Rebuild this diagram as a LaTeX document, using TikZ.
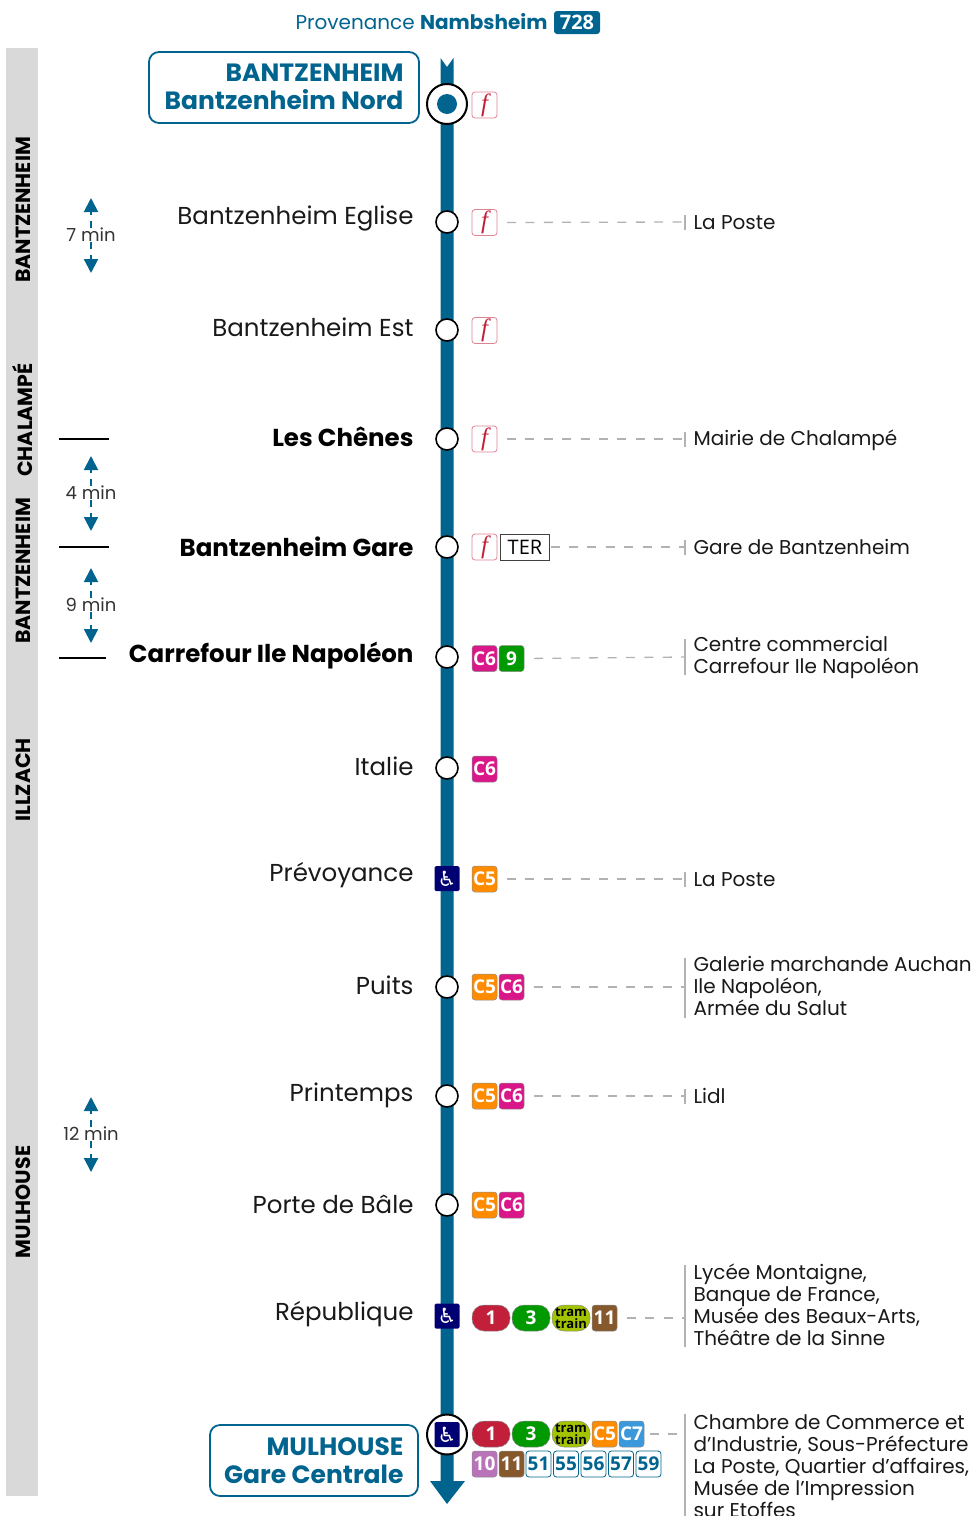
\documentclass[tikz,border=0pt]{standalone}
\usepackage{fontspec}
\usepackage{tikz}
\usetikzlibrary{arrows.meta,positioning}
\setmainfont{Poppins}
\newfontfamily\badgefont{Open Sans}
\newfontfamily\signfont{DejaVu Sans}
\newfontfamily\farefont{Liberation Serif}
\definecolor{lineblue}{HTML}{00648F}
\definecolor{farered}{HTML}{C2203A}
\definecolor{tramlime}{HTML}{A3C400}
\begin{document}
\begin{tikzpicture}[x=1pt,y=-1pt,
    zone/.style={fill=black!15,draw=none,minimum width=32,inner sep=0},
    zonetext/.style={rotate=90,font=\bfseries\fontsize{20.5}{22}\selectfont},
    stop/.style={circle,draw=black,fill=white,line width=1.6,minimum size=22,inner sep=0},
    endstop/.style={circle,draw=black,fill=white,line width=2,minimum size=40,inner sep=0},
    station/.style={anchor=east,text=black!90,font=\fontsize{24.5}{26}\selectfont},
    bigstation/.style={anchor=east,text=black,font=\bfseries\fontsize{24.5}{26}\selectfont},
    endbox/.style={draw=lineblue,line width=1.8,rounded corners=10,fill=white,inner sep=0,
        text=lineblue,align=right,font=\bfseries\fontsize{25}{28}\selectfont},
    place/.style={anchor=west,align=left,text=black!90,font=\fontsize{20}{22}\selectfont},
    tick/.style={fill=black!30,draw=none,minimum width=1.5,inner sep=0},
    leader/.style={draw=black!30,line width=1.3,dash pattern=on 9pt off 9.4pt,shorten <=10pt},
    timetext/.style={text=black!80,fill=white,inner xsep=1,inner ysep=0,font=\fontsize{18}{20}\selectfont},
    timearrow/.style={draw=lineblue,line width=2,dash pattern=on 7pt off 6pt,
        -{Triangle[length=14pt,width=14pt]}},
    timemark/.style={draw=black,line width=2},
    badge/.style={minimum width=25,minimum height=26,inner sep=0,outer sep=0,rounded corners=3,
        draw=black!45,line width=.5,text=white,font=\badgefont\bfseries\fontsize{19}{20}\selectfont},
    fare/.style={badge,fill=white,draw=farered!55,line width=.8,text=farered,
        font=\farefont\itshape\fontsize{25}{26}\selectfont},
    pill/.style={badge,minimum width=38,rounded corners=12},
    busline/.style={badge,fill=white,draw=lineblue,line width=.8,text=lineblue},
    access/.style={minimum size=25,inner sep=0,rounded corners=1.5,fill=blue!45!black,text=white,
        font=\signfont\fontsize{21}{22}\selectfont}]
    \useasboundingbox (0,0) rectangle (978,1516);
    \node[zone,minimum height=304] (zone1) at (22,200) {};
    \node[zone,minimum height=127,below=3 of zone1.south] (zone2) {};
    \node[zone,minimum height=115,below=3 of zone2.south] (zone3) {};
    \node[zone,minimum height=326,below=3 of zone3.south] (zone4) {};
    \node[zone,minimum height=586,below=3 of zone4.south] (zone5) {};
    \node[zonetext] (zonename1) at (23,210) {BANTZENHEIM};
    \node[zonetext] (zonename2) at (23,420) {CHALAMPÉ};
    \node[zonetext] (zonename3) at (23,571) {BANTZENHEIM};
    \node[zonetext] (zonename4) at (23,780) {ILLZACH};
    \node[zonetext] (zonename5) at (23,1202) {MULHOUSE};

    \node[text=lineblue,anchor=east,font=\fontsize{20}{22}\selectfont] (from) at (551,22)
        {Provenance \textbf{Nambsheim}};
    \node[badge,fill=lineblue,draw=none,minimum width=46,minimum height=23,font=\badgefont\bfseries\fontsize{20}{20}\selectfont]
        (line728) at (577,22.5) {728};

    \fill[lineblue] (440.5,58) -- (447,67) -- (453.5,58) -- (453.5,1481) -- (465,1481)
        -- (447,1504) -- (430,1481) -- (440.5,1481) -- cycle;

    \node[endbox,minimum width=270,minimum height=71] (endnord) at (284,87.5) {};
    \node[bigstation,text=lineblue,anchor=east,align=right,font=\bfseries\fontsize{25}{28}\selectfont]
        (endnordname) at (407,87) {BANTZENHEIM\\Bantzenheim Nord};
    \node[endstop] (stop1) at (447,104) {};
    \node[circle,fill=lineblue,minimum size=20,inner sep=0] (stop1dot) at (stop1) {};
    \node[stop] (stop2) at (447,222) {};
    \node[stop] (stop3) at (447,330) {};
    \node[stop] (stop4) at (447,439) {};
    \node[stop] (stop5) at (447,547) {};
    \node[stop] (stop6) at (447,657) {};
    \node[stop] (stop7) at (447,768) {};
    \node[access] (stop8) at (447,878.5) {♿};
    \node[stop] (stop9) at (447,987) {};
    \node[stop] (stop10) at (447,1096) {};
    \node[stop] (stop11) at (447,1205) {};
    \node[access] (stop12) at (447,1316) {♿};
    \node[endstop] (stop13) at (447,1434.5) {};
    \node[access] (stop13sign) at (stop13) {♿};

    \node[station] (name2) at (417,218) {Bantzenheim Eglise};
    \node[station] (name3) at (417,327) {Bantzenheim Est};
    \node[bigstation] (name4) at (417,437) {Les Chênes};
    \node[bigstation] (name5) at (417,547) {Bantzenheim Gare};
    \node[bigstation] (name6) at (417,656) {Carrefour Ile Napoléon};
    \node[station] (name7) at (417,766) {Italie};
    \node[station] (name8) at (417,875) {Prévoyance};
    \node[station] (name9) at (417,985) {Puits};
    \node[station] (name10) at (417,1095) {Printemps};
    \node[station] (name11) at (417,1204) {Porte de Bâle};
    \node[station] (name12) at (417,1314) {République};
    \node[endbox,minimum width=208,minimum height=71] (endgare) at (314,1460.5) {};
    \node[bigstation,text=lineblue,anchor=east,align=right,font=\bfseries\fontsize{25}{28}\selectfont]
        (endgarename) at (407,1461) {MULHOUSE\\Gare Centrale};

    \node[fare] (fare1) at (484.5,105) {f};
    \node[fare] (fare2) at (484.5,222.5) {f};
    \node[fare] (fare3) at (484.5,330.5) {f};
    \node[fare] (fare4) at (484.5,439) {f};
    \node[fare] (fare5) at (484.5,547) {f};
    \node[badge,fill=white,draw=black!75,line width=1,text=black,rounded corners=0,minimum width=49,
        right=3.5 of fare5,font=\badgefont\fontsize{20}{20}\selectfont] (ter5) {TER};
    \node[badge,fill=magenta!90!black] (c6a) at (484.5,658.5) {C6};
    \node[badge,fill=green!60!black,right=2 of c6a] (bus9) {9};
    \node[badge,fill=magenta!90!black] (c6b) at (484.5,769) {C6};
    \node[badge,fill=orange!90!yellow] (c5a) at (484.5,879) {C5};
    \node[badge,fill=orange!90!yellow] (c5b) at (484.5,987) {C5};
    \node[badge,fill=magenta!90!black,right=2 of c5b] (c6c) {C6};
    \node[badge,fill=orange!90!yellow] (c5c) at (484.5,1096) {C5};
    \node[badge,fill=magenta!90!black,right=2 of c5c] (c6d) {C6};
    \node[badge,fill=orange!90!yellow] (c5d) at (484.5,1205) {C5};
    \node[badge,fill=magenta!90!black,right=2 of c5d] (c6e) {C6};

    \node[pill,fill=farered] (tram1a) at (491,1318) {1};
    \node[pill,fill=green!60!black,right=2 of tram1a] (tram3a) {3};
    \node[pill,fill=tramlime,right=2 of tram3a,text=black,align=center,
        font=\badgefont\bfseries\fontsize{13}{11.5}\selectfont] (tramtraina) {tram\\train};
    \node[badge,fill=brown!70!black,right=2 of tramtraina] (bus11a) {11};

    \node[pill,fill=farered] (tram1b) at (491,1434) {1};
    \node[pill,fill=green!60!black,right=2 of tram1b] (tram3b) {3};
    \node[pill,fill=tramlime,right=2 of tram3b,text=black,align=center,
        font=\badgefont\bfseries\fontsize{13}{11.5}\selectfont] (tramtrainb) {tram\\train};
    \node[badge,fill=orange!90!yellow,right=2 of tramtrainb] (c5e) {C5};
    \node[badge,fill=cyan!70!blue!80,right=2 of c5e] (c7a) {C7};

    \node[badge,fill=violet!55] (bus10) at (484.5,1464) {10};
    \node[badge,fill=brown!70!black,right=2 of bus10] (bus11b) {11};
    \node[busline,right=2 of bus11b] (bus51) {51};
    \node[busline,right=2.5 of bus51] (bus55) {55};
    \node[busline,right=2.5 of bus55] (bus56) {56};
    \node[busline,right=2.5 of bus56] (bus57) {57};
    \node[busline,right=2.5 of bus57] (bus59) {59};

    \node[tick,minimum height=15] (tick2) at (685,222) {};
    \node[tick,minimum height=15] (tick4) at (685,439) {};
    \node[tick,minimum height=15] (tick5) at (685,547) {};
    \node[tick,minimum height=36] (tick6) at (685,657) {};
    \node[tick,minimum height=15] (tick8) at (685,879) {};
    \node[tick,minimum height=60] (tick9) at (685,988) {};
    \node[tick,minimum height=15] (tick10) at (685,1096) {};
    \node[tick,minimum height=82] (tick12) at (685,1306) {};
    \node[tick,minimum height=102] (tick13) at (685,1465) {};

    \draw[leader] (fare2.east) -- (tick2);
    \draw[leader] (fare4.east) -- (tick4);
    \draw[leader,shorten <=1pt] (ter5.east) -- (tick5);
    \draw[leader] (bus9.east) -- (tick6);
    \draw[leader] (c5a.east) -- (tick8);
    \draw[leader] (c6c.east) -- (c6c.east -| tick9);
    \draw[leader] (c6d.east) -- (tick10);
    \draw[leader] (bus11a.east) -- (bus11a.east -| tick12);
    \draw[leader,shorten <=6pt] (c7a.east) -- (c7a.east -| tick13);

    \node[place] (place2) at (690,223) {La Poste};
    \node[place] (place4) at (690,440) {Mairie de Chalampé};
    \node[place] (place5) at (690,547) {Gare de Bantzenheim};
    \node[place] (place6) at (690,657) {Centre commercial\\Carrefour Ile Napoléon};
    \node[place] (place8) at (690,880) {La Poste};
    \node[place] (place9) at (690,986) {Galerie marchande Auchan\\Ile Napoléon,\\Armée du Salut};
    \node[place] (place10) at (690,1096) {Lidl};
    \node[place] (place12) at (690,1305) {Lycée Montaigne,\\Banque de France,\\Musée des Beaux-Arts,\\Théâtre de la Sinne};
    \node[place] (place13) at (690,1466) {Chambre de Commerce et\\d’Industrie, Sous-Préfecture\\La Poste, Quartier d’affaires,\\Musée de l’Impression\\sur Etoffes};

    \draw[timemark] (59,439) coordinate (markleft4) -- (109,439) coordinate (markright4);
    \draw[timemark] (59,547) coordinate (markleft5) -- (109,547) coordinate (markright5);
    \draw[timemark] (59,658) coordinate (markleft6) -- (106,658) coordinate (markright6);

    \node[timetext] (time7) at (91,235) {7 min};
    \node[timetext] (time4) at (91,493) {4 min};
    \node[timetext] (time9) at (91,605) {9 min};
    \node[timetext] (time12) at (91,1134) {12 min};
    \coordinate (up7) at (91,198);
    \coordinate (down7) at (91,273);
    \coordinate (up4) at (91,456);
    \coordinate (down4) at (91,531);
    \coordinate (up9) at (91,568);
    \coordinate (down9) at (91,643);
    \coordinate (up12) at (91,1097);
    \coordinate (down12) at (91,1172);
    \draw[timearrow] (time7) -- (up7);
    \draw[timearrow] (time7) -- (down7);
    \draw[timearrow] (time4) -- (up4);
    \draw[timearrow] (time4) -- (down4);
    \draw[timearrow] (time9) -- (up9);
    \draw[timearrow] (time9) -- (down9);
    \draw[timearrow] (time12) -- (up12);
    \draw[timearrow] (time12) -- (down12);
\end{tikzpicture}
\end{document}
